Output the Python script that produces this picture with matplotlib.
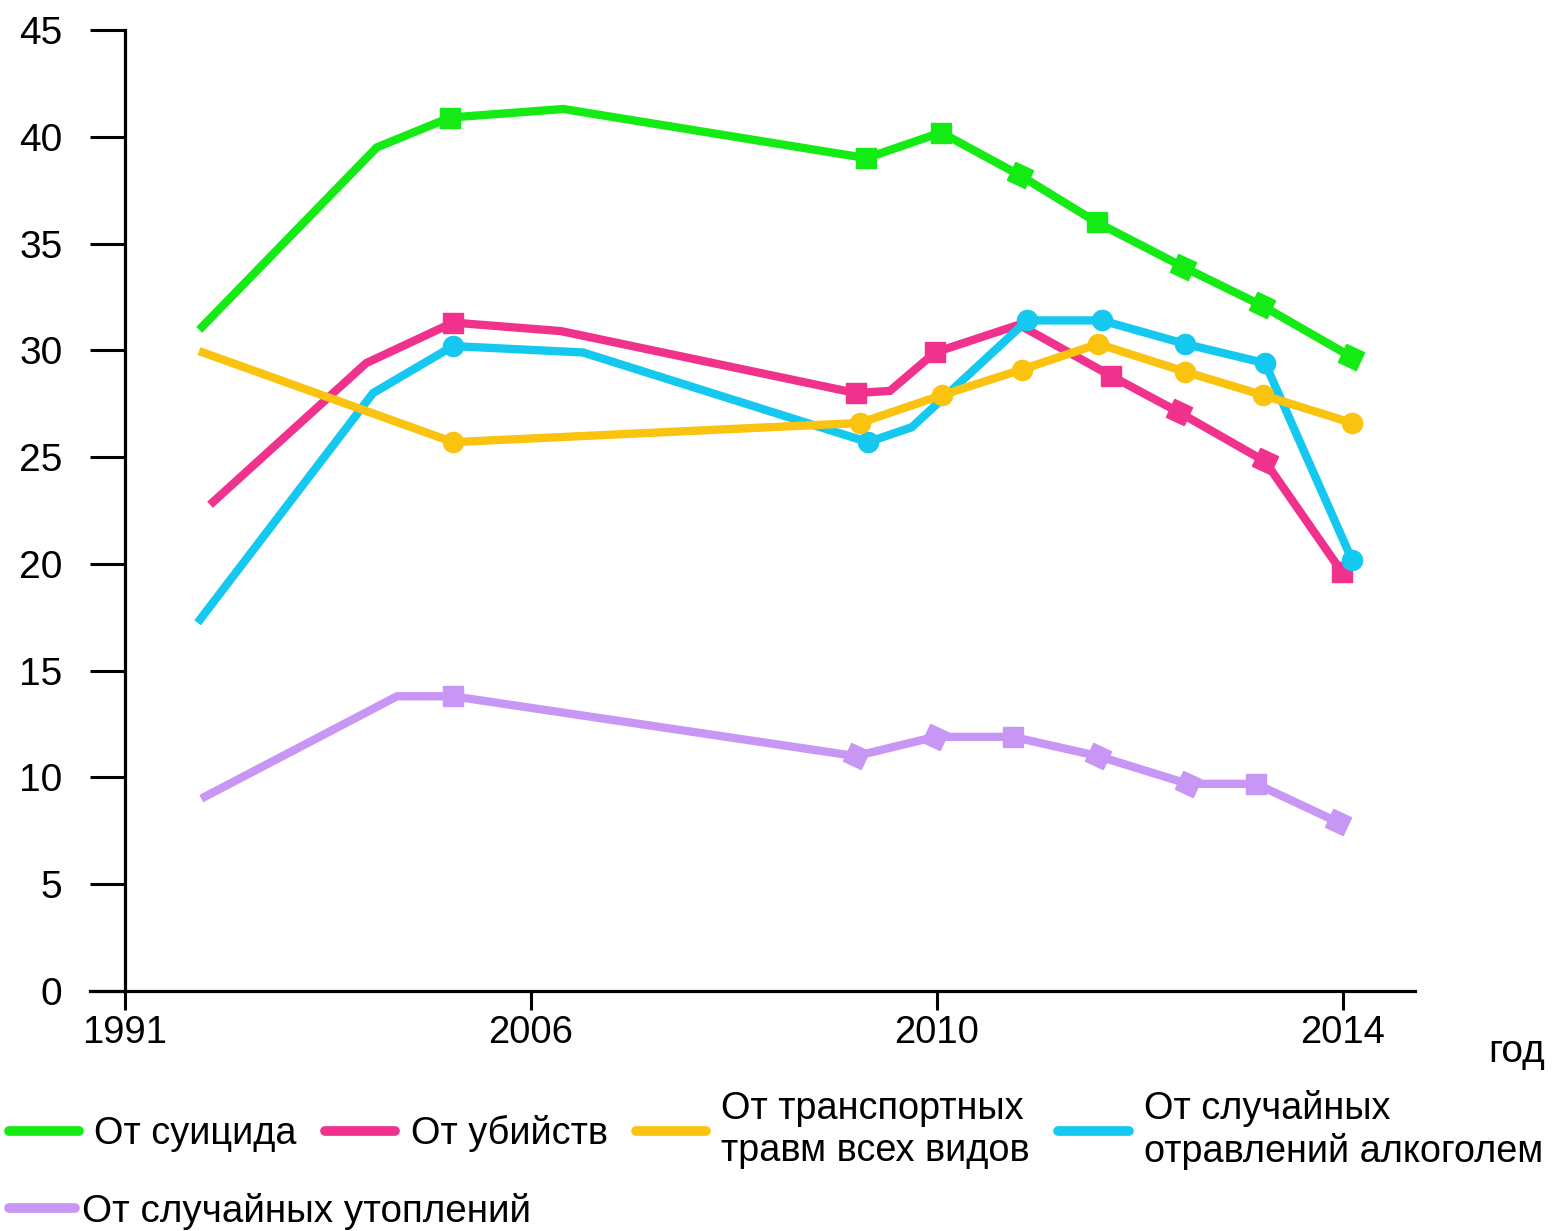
import matplotlib.pyplot as plt
from matplotlib.lines import Line2D

plt.rcParams['font.family'] = ['Liberation Sans', 'DejaVu Sans']

# x positions in tick units: 0 = 1991, 1 = 2006, 2 = 2010, 3 = 2014
tick_pos = [0, 1, 2, 3]
tick_labels = ['1991', '2006', '2010', '2014']

suicide_x = [0.19, 0.62, 0.80, 1.08, 1.826, 2.01, 2.204, 2.393, 2.607, 2.80, 3.02]
suicide_y = [31.1, 39.5, 40.9, 41.3, 39.0, 40.2, 38.2, 36.0, 33.9, 32.1, 29.7]
suicide_m = [None, None, 's', None, 's', 's', 'D', 's', 'D', 'D', 'D']

murder_x = [0.217, 0.594, 0.808, 1.074, 1.800, 1.884, 1.995, 2.202, 2.429, 2.596, 2.808, 2.998]
murder_y = [22.9, 29.4, 31.3, 30.9, 28.0, 28.1, 29.9, 31.2, 28.8, 27.1, 24.8, 19.6]
murder_m = [None, None, 's', None, 's', None, 's', None, 's', 'D', 'D', 's']

alcohol_x = [0.185, 0.611, 0.808, 1.128, 1.830, 1.938, 2.222, 2.406, 2.611, 2.808, 3.022]
alcohol_y = [17.4, 28.0, 30.2, 29.9, 25.7, 26.4, 31.4, 31.4, 30.3, 29.4, 20.2]
alcohol_m = [None, None, 'o', None, 'o', None, 'o', 'o', 'o', 'o', 'o']

transport_x = [0.192, 0.808, 1.810, 2.012, 2.209, 2.397, 2.611, 2.803, 3.022]
transport_y = [29.9, 25.7, 26.6, 27.9, 29.1, 30.3, 29.0, 27.9, 26.6]
transport_m = [None, 'o', 'o', 'o', 'o', 'o', 'o', 'o', 'o']

drown_x = [0.197, 0.670, 0.808, 1.800, 1.995, 2.187, 2.397, 2.618, 2.786, 2.988]
drown_y = [9.1, 13.8, 13.8, 11.0, 11.9, 11.9, 11.0, 9.7, 9.7, 7.9]
drown_m = [None, None, 's', 'D', 'D', 's', 'D', 'D', 's', 'D']

series = [
    ('От суицида', '#14EB14', suicide_x, suicide_y, suicide_m),
    ('От убийств', '#F0328C', murder_x, murder_y, murder_m),
    ('От случайных\nотравлений алкоголем', '#14C8F0', alcohol_x, alcohol_y, alcohol_m),
    ('От транспортных\nтравм всех видов', '#FAC30F', transport_x, transport_y, transport_m),
    ('От случайных утоплений', '#C896F5', drown_x, drown_y, drown_m),
]

fig = plt.figure(figsize=(15.54, 12.31), dpi=100)
ax = fig.add_axes([90/1554, 1 - 991/1231, (1415 - 90)/1554, (991 - 30)/1231])

msize = {'s': 15, 'o': 14.5, 'D': 20}
for name, col, xs, ys, ms in series:
    ax.plot(xs, ys, color=col, lw=6, solid_joinstyle='miter', clip_on=False)
    for mk in ['s', 'o', 'D']:
        px = [x for x, m in zip(xs, ms) if m == mk]
        py = [y for y, m in zip(ys, ms) if m == mk]
        if not px:
            continue
        marker = (4, 0, 20) if mk == 'D' else mk
        ax.plot(px, py, ls='none', marker=marker, ms=msize[mk], color=col,
                mec=col, clip_on=False)

ax.set_xlim(-35/406, (1415 - 125)/406)
ax.set_ylim(0, 45)
ax.spines['top'].set_visible(False)
ax.spines['right'].set_visible(False)
ax.spines['left'].set_position(('data', 0))
for s in ['left', 'bottom']:
    ax.spines[s].set_linewidth(2.3)
ax.set_yticks(range(0, 46, 5))
ax.set_xticks(tick_pos)
ax.set_xticklabels(tick_labels)
ax.tick_params(axis='y', length=25, width=2.2, pad=20, labelsize=28, direction='out')
ax.tick_params(axis='x', length=14, width=2.2, pad=3, labelsize=27.5, direction='out')

fig.text(1545/1554, 1 - 1062/1231, 'год', ha='right', va='baseline', fontsize=28)

# legend, row 1 and row 2
def proxy(col):
    return Line2D([0], [0], color=col, lw=7, solid_capstyle='round')

cols = {name: col for name, col, *_ in series}
row1 = ['От суицида', 'От убийств', 'От транспортных\nтравм всех видов',
        'От случайных\nотравлений алкоголем']
leg1 = fig.legend([proxy(cols[n]) for n in row1], row1, ncol=4, frameon=False,
                  loc='center left', bbox_to_anchor=(9/1554, 1 - 1130/1231),
                  fontsize=27.3, handlelength=1.85, handletextpad=0.4,
                  columnspacing=0.75, borderpad=0, borderaxespad=0)
row2 = ['От случайных утоплений']
leg2 = fig.legend([proxy(cols[n]) for n in row2], row2, ncol=1, frameon=False,
                  loc='center left', bbox_to_anchor=(9/1554, 1 - 1211/1231),
                  fontsize=27.8, handlelength=1.7, handletextpad=0.2,
                  borderpad=0, borderaxespad=0)

fig.savefig('out.png', dpi=100)
